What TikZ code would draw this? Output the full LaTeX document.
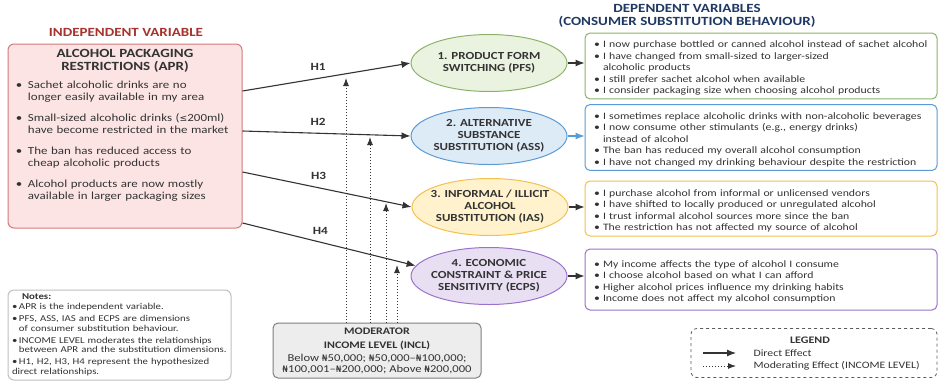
\documentclass[tikz,border=0pt]{standalone}
\usepackage{fontspec}
\setmainfont{Carlito}[FakeStretch=1.2]
\newfontfamily\symfont{DejaVu Sans}[Scale=0.85]
\usetikzlibrary{arrows.meta,positioning,shapes.geometric}
\definecolor{txt}{HTML}{333333}
\definecolor{ivred}{HTML}{A8322D}
\definecolor{dvblue}{HTML}{1F3864}
\definecolor{aprfill}{HTML}{FCE4E4}
\definecolor{aprdraw}{HTML}{D47A7A}
\definecolor{pfsfill}{HTML}{EAF3E0}
\definecolor{pfsdraw}{HTML}{8DB36B}
\definecolor{assfill}{HTML}{DDEBF7}
\definecolor{assdraw}{HTML}{5B9BD5}
\definecolor{iasfill}{HTML}{FFF2CC}
\definecolor{iasdraw}{HTML}{F2C14E}
\definecolor{ecpsfill}{HTML}{E9DFF3}
\definecolor{ecpsdraw}{HTML}{9B72CB}
\definecolor{modfill}{HTML}{EDEDED}
\definecolor{moddraw}{HTML}{7F7F7F}
\newcommand{\ngn}{{\symfont ₦}}
\newcommand{\blt}[2][9pt]{\par\noindent\hangindent=#1\hangafter=1\makebox[#1][l]{\textbullet}#2}

\begin{document}
\begin{tikzpicture}[x=1pt,y=-1pt,
  every node/.style={font=\fontsize{9.8}{11.5}\selectfont,text=txt},
  iv/.style={text=ivred,font=\fontsize{12.5}{12.5}\selectfont\bfseries},
  dv/.style={text=dvblue,font=\fontsize{12.5}{12.5}\selectfont\bfseries,align=center},
  apr/.style={draw=aprdraw,fill=aprfill,line width=1pt,rounded corners=6pt,align=left,text width=218pt,inner xsep=8pt,minimum width=234pt,minimum height=184pt,font=\fontsize{10.8}{11.5}\selectfont},
  el/.style={ellipse,line width=1pt,minimum width=156pt,minimum height=57pt,inner xsep=-30pt,inner ysep=-5pt,align=center,font=\fontsize{10.8}{12}\selectfont\bfseries},
  stm/.style={draw,fill=white,line width=1pt,rounded corners=5pt,align=left,text width=334pt,inner xsep=9pt,minimum width=352pt},
  mod/.style={draw=moddraw,fill=modfill,line width=1pt,rounded corners=5pt,align=center,inner ysep=1pt,minimum width=208pt,minimum height=55pt,font=\fontsize{10.5}{11}\selectfont},
  nt/.style={draw=black!25,line width=1pt,rounded corners=6pt,align=left,text width=215pt,inner xsep=4pt,inner ysep=2pt,minimum width=223pt,minimum height=90pt,font=\fontsize{9}{9.5}\selectfont},
  leg/.style={draw=txt!80,dashed,line width=0.8pt,rounded corners=6pt,minimum width=246pt,minimum height=49pt},
  lg/.style={anchor=west,font=\fontsize{9.8}{11}\selectfont},
  hl/.style={pos=0.45,above=4pt,font=\fontsize{11}{11}\selectfont\bfseries},
  ar/.style={-{Latex[length=9pt,width=7pt]},line width=1.1pt,draw=txt},
  mar/.style={-{Latex[length=8pt,width=6pt]},line width=1pt,dotted,draw=txt}]
\useasboundingbox[fill=white] (0,0) rectangle (942,381);
\node[iv] (ivt) at (126,32) {INDEPENDENT VARIABLE};
\node[dv] (dvt) at (687,16) {DEPENDENT VARIABLES\\(CONSUMER SUBSTITUTION BEHAVIOUR)};
\node[apr] (apr) at (125,136) {{\centering\fontsize{12.5}{12.5}\selectfont\bfseries ALCOHOL PACKAGING\\RESTRICTIONS (APR)\par}\vspace{7pt}%
\blt[12pt]{Sachet alcoholic drinks are no\newline longer easily available in my area}\par\vspace{10pt}%
\blt[12pt]{Small-sized alcoholic drinks ({\symfont ≤}200ml)\newline have become restricted in the market}\par\vspace{10pt}%
\blt[12pt]{The ban has reduced access to\newline cheap alcoholic products}\par\vspace{10pt}%
\blt[12pt]{Alcohol products are now mostly\newline available in larger packaging sizes}\par\vspace{21pt}};
\node[el,fill=pfsfill,draw=pfsdraw] (pfs) at (489,63) {1. PRODUCT FORM\\SWITCHING (PFS)};
\node[el,fill=assfill,draw=assdraw] (ass) at (489,136) {2. ALTERNATIVE\\SUBSTANCE\\SUBSTITUTION (ASS)};
\node[el,fill=iasfill,draw=iasdraw] (ias) at (490,207) {3. INFORMAL / ILLICIT\\ALCOHOL\\SUBSTITUTION (IAS)};
\node[el,fill=ecpsfill,draw=ecpsdraw] (ecps) at (489,276) {4. ECONOMIC\\CONSTRAINT \& PRICE\\SENSITIVITY (ECPS)};
\node[stm,draw=pfsdraw,minimum height=62pt] (s1) at (761,66) {\blt{I now purchase bottled or canned alcohol instead of sachet alcohol}
\blt{I have changed from small-sized to larger-sized\newline alcoholic products}
\blt{I still prefer sachet alcohol when available}
\blt{I consider packaging size when choosing alcohol products}};
\node[stm,draw=assdraw,minimum height=61pt] (s2) at (761,137.5) {\blt{I sometimes replace alcoholic drinks with non-alcoholic beverages}
\blt{I now consume other stimulants (e.g., energy drinks)\newline instead of alcohol}
\blt{The ban has reduced my overall alcohol consumption}
\blt{I have not changed my drinking behaviour despite the restriction}};
\node[stm,draw=iasdraw,minimum height=55pt] (s3) at (761,208.5) {\blt{I purchase alcohol from informal or unlicensed vendors}
\blt{I have shifted to locally produced or unregulated alcohol}
\blt{I trust informal alcohol sources more since the ban}
\blt{The restriction has not affected my source of alcohol}};
\node[stm,draw=ecpsdraw,minimum height=61pt] (s4) at (761,279.5) {\blt{My income affects the type of alcohol I consume}
\blt{I choose alcohol based on what I can afford}
\blt{Higher alcohol prices influence my drinking habits}
\blt{Income does not affect my alcohol consumption}};
\node[mod] (incl) at (377,350.5) {{\fontsize{10}{11}\selectfont\bfseries MODERATOR}\\[3pt]{\fontsize{10}{11}\selectfont\bfseries INCOME LEVEL (INCL)}\\[2pt]Below \ngn50,000; \ngn50,000--\ngn100,000;\\\ngn100,001--\ngn200,000; Above \ngn200,000};
\node[nt] (notes) at (119.5,335) {\hspace*{10pt}\textbf{Notes:}\par\vspace{0.5pt}%
\blt[7pt]{APR is the independent variable.}\par\vspace{2.5pt}%
\blt[7pt]{PFS, ASS, IAS and ECPS are dimensions\newline of consumer substitution behaviour.}\par\vspace{2.5pt}%
\blt[7pt]{INCOME LEVEL moderates the relationships\newline between APR and the substitution dimensions.}\par\vspace{2.5pt}%
\blt[7pt]{H1, H2, H3, H4 represent the hypothesized\newline direct relationships.}};
\node[leg] (leg) at (814,353) {};
\node[font=\fontsize{10}{11}\selectfont\bfseries] (legt) at (810,340) {LEGEND};
\node[lg] (ldir) at (750,353) {Direct Effect};
\node[lg] (lmod) at (750,366) {Moderating Effect (INCOME LEVEL)};
\draw[ar] ([yshift=45pt]apr.east) -- node[hl]{H1} (pfs.west);
\draw[ar] ([yshift=5pt]apr.east) -- node[hl]{H2} (ass.west);
\draw[ar] ([yshift=-36pt]apr.east) -- node[hl]{H3} (ias.west);
\draw[ar] ([yshift=-87pt]apr.east) -- node[hl]{H4} (ecps.172);
\draw[ar] (pfs.east) -- (pfs.east -| s1.west);
\draw[ar,draw=assdraw,-{Latex[length=9pt,width=7pt,fill=assdraw]}] (ass.east) -- (ass.east -| s2.west);
\draw[ar] (ias.east) -- (ias.east -| s3.west);
\draw[ar] (ecps.east) -- (ecps.east -| s4.west);
\coordinate (m1) at (346,78);
\coordinate (m2) at (370,137);
\coordinate (m3) at (386,203);
\coordinate (m4) at (397,265);
\draw[mar] (m1 |- incl.north) -- (m1);
\draw[mar] (m2 |- incl.north) -- (m2);
\draw[mar] (m3 |- incl.north) -- (m3);
\draw[mar] (m4 |- incl.north) -- (m4);
\draw[ar] ([xshift=-47pt]ldir.west) -- ([xshift=-14pt]ldir.west);
\draw[mar] ([xshift=-47pt]lmod.west) -- ([xshift=-14pt]lmod.west);
\end{tikzpicture}
\end{document}
